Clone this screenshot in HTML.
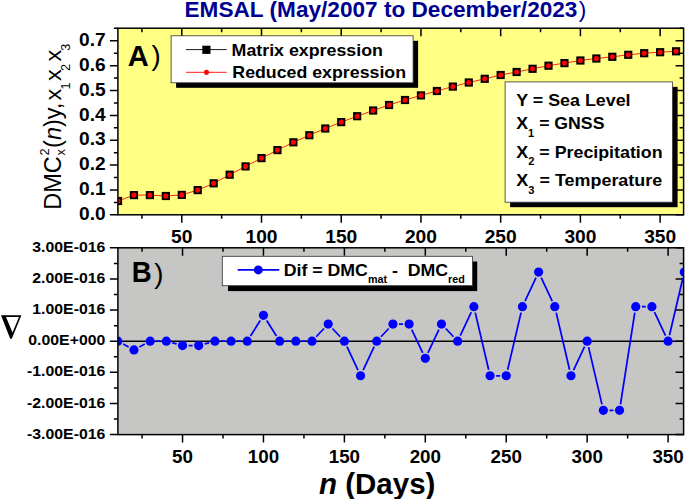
<!DOCTYPE html><html><head><meta charset="utf-8"><title>chart</title><style>html,body{margin:0;padding:0;background:#fff}body{width:685px;height:499px;overflow:hidden;font-family:"Liberation Sans",sans-serif}</style></head><body><svg width="685" height="499" viewBox="0 0 685 499" style="display:block">
<rect width="685" height="499" fill="#fff"/>
<rect x="117.90" y="28.20" width="565.70" height="186.60" fill="#ffff83"/>
<rect x="117.90" y="247.80" width="565.70" height="186.80" fill="#c6c6c4"/>
<text transform="translate(184.50,16.60) scale(1.0470,1.0000)" font-family="Liberation Sans, sans-serif" font-weight="bold" font-size="21.6" text-anchor="start" fill="#000090" xml:space="preserve">EMSAL (May/2007 to December/2023<tspan font-weight="normal" dx="1.2">)</tspan></text>
<path d="M141.92 214.80v4.0M141.92 28.20v4.0M142.08 247.80v4.0M142.08 434.60v4.0M181.78 214.80v8.0M181.78 28.20v8.0M182.54 247.80v8.0M182.54 434.60v8.0M221.64 214.80v4.0M221.64 28.20v4.0M223.00 247.80v4.0M223.00 434.60v4.0M261.50 214.80v8.0M261.50 28.20v8.0M263.46 247.80v8.0M263.46 434.60v8.0M301.37 214.80v4.0M301.37 28.20v4.0M303.93 247.80v4.0M303.93 434.60v4.0M341.23 214.80v8.0M341.23 28.20v8.0M344.39 247.80v8.0M344.39 434.60v8.0M381.09 214.80v4.0M381.09 28.20v4.0M384.85 247.80v4.0M384.85 434.60v4.0M420.95 214.80v8.0M420.95 28.20v8.0M425.31 247.80v8.0M425.31 434.60v8.0M460.82 214.80v4.0M460.82 28.20v4.0M465.78 247.80v4.0M465.78 434.60v4.0M500.68 214.80v8.0M500.68 28.20v8.0M506.24 247.80v8.0M506.24 434.60v8.0M540.54 214.80v4.0M540.54 28.20v4.0M546.70 247.80v4.0M546.70 434.60v4.0M580.40 214.80v8.0M580.40 28.20v8.0M587.16 247.80v8.0M587.16 434.60v8.0M620.27 214.80v4.0M620.27 28.20v4.0M627.63 247.80v4.0M627.63 434.60v4.0M660.13 214.80v8.0M660.13 28.20v8.0M668.09 247.80v8.0M668.09 434.60v8.0M117.90 214.80h-8.0M683.60 214.80h-8.0M117.90 202.38h-4.0M683.60 202.38h-4.0M117.90 189.95h-8.0M683.60 189.95h-8.0M117.90 177.53h-4.0M683.60 177.53h-4.0M117.90 165.10h-8.0M683.60 165.10h-8.0M117.90 152.68h-4.0M683.60 152.68h-4.0M117.90 140.25h-8.0M683.60 140.25h-8.0M117.90 127.83h-4.0M683.60 127.83h-4.0M117.90 115.40h-8.0M683.60 115.40h-8.0M117.90 102.98h-4.0M683.60 102.98h-4.0M117.90 90.55h-8.0M683.60 90.55h-8.0M117.90 78.12h-4.0M683.60 78.12h-4.0M117.90 65.70h-8.0M683.60 65.70h-8.0M117.90 53.28h-4.0M683.60 53.28h-4.0M117.90 40.85h-8.0M683.60 40.85h-8.0M117.90 28.20h-4.0M683.60 28.20h-4.0M117.90 434.59h-8.0M683.60 434.59h-8.0M117.90 419.02h-4.0M683.60 419.02h-4.0M117.90 403.46h-8.0M683.60 403.46h-8.0M117.90 387.89h-4.0M683.60 387.89h-4.0M117.90 372.33h-8.0M683.60 372.33h-8.0M117.90 356.76h-4.0M683.60 356.76h-4.0M117.90 341.20h-8.0M683.60 341.20h-8.0M117.90 325.63h-4.0M683.60 325.63h-4.0M117.90 310.07h-8.0M683.60 310.07h-8.0M117.90 294.50h-4.0M683.60 294.50h-4.0M117.90 278.94h-8.0M683.60 278.94h-8.0M117.90 263.38h-4.0M683.60 263.38h-4.0M117.90 247.81h-8.0M683.60 247.81h-8.0" stroke="#000" stroke-width="1.5" fill="none"/>
<text transform="translate(181.78,243.00)" font-family="Liberation Sans, sans-serif" font-weight="bold" font-size="19.2" text-anchor="middle" fill="#000" xml:space="preserve">50</text>
<text transform="translate(182.54,462.60)" font-family="Liberation Sans, sans-serif" font-weight="bold" font-size="18.8" text-anchor="middle" fill="#000" xml:space="preserve">50</text>
<text transform="translate(261.50,243.00)" font-family="Liberation Sans, sans-serif" font-weight="bold" font-size="19.2" text-anchor="middle" fill="#000" xml:space="preserve">100</text>
<text transform="translate(263.46,462.60)" font-family="Liberation Sans, sans-serif" font-weight="bold" font-size="18.8" text-anchor="middle" fill="#000" xml:space="preserve">100</text>
<text transform="translate(341.23,243.00)" font-family="Liberation Sans, sans-serif" font-weight="bold" font-size="19.2" text-anchor="middle" fill="#000" xml:space="preserve">150</text>
<text transform="translate(344.39,462.60)" font-family="Liberation Sans, sans-serif" font-weight="bold" font-size="18.8" text-anchor="middle" fill="#000" xml:space="preserve">150</text>
<text transform="translate(420.95,243.00)" font-family="Liberation Sans, sans-serif" font-weight="bold" font-size="19.2" text-anchor="middle" fill="#000" xml:space="preserve">200</text>
<text transform="translate(425.31,462.60)" font-family="Liberation Sans, sans-serif" font-weight="bold" font-size="18.8" text-anchor="middle" fill="#000" xml:space="preserve">200</text>
<text transform="translate(500.68,243.00)" font-family="Liberation Sans, sans-serif" font-weight="bold" font-size="19.2" text-anchor="middle" fill="#000" xml:space="preserve">250</text>
<text transform="translate(506.24,462.60)" font-family="Liberation Sans, sans-serif" font-weight="bold" font-size="18.8" text-anchor="middle" fill="#000" xml:space="preserve">250</text>
<text transform="translate(580.40,243.00)" font-family="Liberation Sans, sans-serif" font-weight="bold" font-size="19.2" text-anchor="middle" fill="#000" xml:space="preserve">300</text>
<text transform="translate(587.16,462.60)" font-family="Liberation Sans, sans-serif" font-weight="bold" font-size="18.8" text-anchor="middle" fill="#000" xml:space="preserve">300</text>
<text transform="translate(660.13,243.00)" font-family="Liberation Sans, sans-serif" font-weight="bold" font-size="19.2" text-anchor="middle" fill="#000" xml:space="preserve">350</text>
<text transform="translate(668.09,462.60)" font-family="Liberation Sans, sans-serif" font-weight="bold" font-size="18.8" text-anchor="middle" fill="#000" xml:space="preserve">350</text>
<text transform="translate(105.60,220.00) scale(1.0400,1.0000)" font-family="Liberation Sans, sans-serif" font-weight="bold" font-size="18.4" text-anchor="end" fill="#000" xml:space="preserve">0.0</text>
<text transform="translate(105.60,195.15) scale(1.0400,1.0000)" font-family="Liberation Sans, sans-serif" font-weight="bold" font-size="18.4" text-anchor="end" fill="#000" xml:space="preserve">0.1</text>
<text transform="translate(105.60,170.30) scale(1.0400,1.0000)" font-family="Liberation Sans, sans-serif" font-weight="bold" font-size="18.4" text-anchor="end" fill="#000" xml:space="preserve">0.2</text>
<text transform="translate(105.60,145.45) scale(1.0400,1.0000)" font-family="Liberation Sans, sans-serif" font-weight="bold" font-size="18.4" text-anchor="end" fill="#000" xml:space="preserve">0.3</text>
<text transform="translate(105.60,120.60) scale(1.0400,1.0000)" font-family="Liberation Sans, sans-serif" font-weight="bold" font-size="18.4" text-anchor="end" fill="#000" xml:space="preserve">0.4</text>
<text transform="translate(105.60,95.75) scale(1.0400,1.0000)" font-family="Liberation Sans, sans-serif" font-weight="bold" font-size="18.4" text-anchor="end" fill="#000" xml:space="preserve">0.5</text>
<text transform="translate(105.60,70.90) scale(1.0400,1.0000)" font-family="Liberation Sans, sans-serif" font-weight="bold" font-size="18.4" text-anchor="end" fill="#000" xml:space="preserve">0.6</text>
<text transform="translate(105.60,46.05) scale(1.0400,1.0000)" font-family="Liberation Sans, sans-serif" font-weight="bold" font-size="18.4" text-anchor="end" fill="#000" xml:space="preserve">0.7</text>
<text transform="translate(105.30,251.91) scale(1.0700,1.0000)" font-family="Liberation Sans, sans-serif" font-weight="bold" font-size="14.8" text-anchor="end" fill="#000" xml:space="preserve">3.00E-016</text>
<text transform="translate(105.30,283.04) scale(1.0700,1.0000)" font-family="Liberation Sans, sans-serif" font-weight="bold" font-size="14.8" text-anchor="end" fill="#000" xml:space="preserve">2.00E-016</text>
<text transform="translate(105.30,314.17) scale(1.0700,1.0000)" font-family="Liberation Sans, sans-serif" font-weight="bold" font-size="14.8" text-anchor="end" fill="#000" xml:space="preserve">1.00E-016</text>
<text transform="translate(105.30,345.30) scale(1.0700,1.0000)" font-family="Liberation Sans, sans-serif" font-weight="bold" font-size="14.8" text-anchor="end" fill="#000" xml:space="preserve">0.00E+000</text>
<text transform="translate(105.30,376.43) scale(1.0700,1.0000)" font-family="Liberation Sans, sans-serif" font-weight="bold" font-size="14.8" text-anchor="end" fill="#000" xml:space="preserve">-1.00E-016</text>
<text transform="translate(105.30,407.56) scale(1.0700,1.0000)" font-family="Liberation Sans, sans-serif" font-weight="bold" font-size="14.8" text-anchor="end" fill="#000" xml:space="preserve">-2.00E-016</text>
<text transform="translate(105.30,438.69) scale(1.0700,1.0000)" font-family="Liberation Sans, sans-serif" font-weight="bold" font-size="14.8" text-anchor="end" fill="#000" xml:space="preserve">-3.00E-016</text>
<clipPath id="c1"><rect x="117.90" y="28.20" width="565.70" height="186.60"/></clipPath>
<g clip-path="url(#c1)">
<polyline points="118.00,201.00 133.94,195.10 149.89,195.10 165.84,196.00 181.78,194.90 197.72,190.10 213.67,183.30 229.62,174.70 245.56,166.40 261.50,158.10 277.45,150.10 293.39,142.30 309.34,135.20 325.28,128.50 341.23,122.10 357.18,116.20 373.12,110.50 389.06,105.00 405.01,100.00 420.95,95.40 436.90,91.00 452.85,86.60 468.79,82.50 484.74,78.80 500.68,75.00 516.62,72.00 532.57,68.80 548.51,65.70 564.46,63.10 580.40,60.50 596.35,58.50 612.30,56.80 628.24,54.80 644.19,53.20 660.13,52.20 676.08,51.30" fill="none" stroke="#ff0000" stroke-width="0.85"/>
<rect x="113.90" y="196.90" width="8.2" height="8.2" fill="#000"/>
<circle cx="118.00" cy="201.00" r="2.55" fill="#ff0000"/>
<rect x="129.84" y="191.00" width="8.2" height="8.2" fill="#000"/>
<circle cx="133.94" cy="195.10" r="2.55" fill="#ff0000"/>
<rect x="145.79" y="191.00" width="8.2" height="8.2" fill="#000"/>
<circle cx="149.89" cy="195.10" r="2.55" fill="#ff0000"/>
<rect x="161.74" y="191.90" width="8.2" height="8.2" fill="#000"/>
<circle cx="165.84" cy="196.00" r="2.55" fill="#ff0000"/>
<rect x="177.68" y="190.80" width="8.2" height="8.2" fill="#000"/>
<circle cx="181.78" cy="194.90" r="2.55" fill="#ff0000"/>
<rect x="193.62" y="186.00" width="8.2" height="8.2" fill="#000"/>
<circle cx="197.72" cy="190.10" r="2.55" fill="#ff0000"/>
<rect x="209.57" y="179.20" width="8.2" height="8.2" fill="#000"/>
<circle cx="213.67" cy="183.30" r="2.55" fill="#ff0000"/>
<rect x="225.52" y="170.60" width="8.2" height="8.2" fill="#000"/>
<circle cx="229.62" cy="174.70" r="2.55" fill="#ff0000"/>
<rect x="241.46" y="162.30" width="8.2" height="8.2" fill="#000"/>
<circle cx="245.56" cy="166.40" r="2.55" fill="#ff0000"/>
<rect x="257.40" y="154.00" width="8.2" height="8.2" fill="#000"/>
<circle cx="261.50" cy="158.10" r="2.55" fill="#ff0000"/>
<rect x="273.35" y="146.00" width="8.2" height="8.2" fill="#000"/>
<circle cx="277.45" cy="150.10" r="2.55" fill="#ff0000"/>
<rect x="289.29" y="138.20" width="8.2" height="8.2" fill="#000"/>
<circle cx="293.39" cy="142.30" r="2.55" fill="#ff0000"/>
<rect x="305.24" y="131.10" width="8.2" height="8.2" fill="#000"/>
<circle cx="309.34" cy="135.20" r="2.55" fill="#ff0000"/>
<rect x="321.18" y="124.40" width="8.2" height="8.2" fill="#000"/>
<circle cx="325.28" cy="128.50" r="2.55" fill="#ff0000"/>
<rect x="337.13" y="118.00" width="8.2" height="8.2" fill="#000"/>
<circle cx="341.23" cy="122.10" r="2.55" fill="#ff0000"/>
<rect x="353.07" y="112.10" width="8.2" height="8.2" fill="#000"/>
<circle cx="357.18" cy="116.20" r="2.55" fill="#ff0000"/>
<rect x="369.02" y="106.40" width="8.2" height="8.2" fill="#000"/>
<circle cx="373.12" cy="110.50" r="2.55" fill="#ff0000"/>
<rect x="384.96" y="100.90" width="8.2" height="8.2" fill="#000"/>
<circle cx="389.06" cy="105.00" r="2.55" fill="#ff0000"/>
<rect x="400.91" y="95.90" width="8.2" height="8.2" fill="#000"/>
<circle cx="405.01" cy="100.00" r="2.55" fill="#ff0000"/>
<rect x="416.85" y="91.30" width="8.2" height="8.2" fill="#000"/>
<circle cx="420.95" cy="95.40" r="2.55" fill="#ff0000"/>
<rect x="432.80" y="86.90" width="8.2" height="8.2" fill="#000"/>
<circle cx="436.90" cy="91.00" r="2.55" fill="#ff0000"/>
<rect x="448.75" y="82.50" width="8.2" height="8.2" fill="#000"/>
<circle cx="452.85" cy="86.60" r="2.55" fill="#ff0000"/>
<rect x="464.69" y="78.40" width="8.2" height="8.2" fill="#000"/>
<circle cx="468.79" cy="82.50" r="2.55" fill="#ff0000"/>
<rect x="480.63" y="74.70" width="8.2" height="8.2" fill="#000"/>
<circle cx="484.74" cy="78.80" r="2.55" fill="#ff0000"/>
<rect x="496.58" y="70.90" width="8.2" height="8.2" fill="#000"/>
<circle cx="500.68" cy="75.00" r="2.55" fill="#ff0000"/>
<rect x="512.52" y="67.90" width="8.2" height="8.2" fill="#000"/>
<circle cx="516.62" cy="72.00" r="2.55" fill="#ff0000"/>
<rect x="528.47" y="64.70" width="8.2" height="8.2" fill="#000"/>
<circle cx="532.57" cy="68.80" r="2.55" fill="#ff0000"/>
<rect x="544.41" y="61.60" width="8.2" height="8.2" fill="#000"/>
<circle cx="548.51" cy="65.70" r="2.55" fill="#ff0000"/>
<rect x="560.36" y="59.00" width="8.2" height="8.2" fill="#000"/>
<circle cx="564.46" cy="63.10" r="2.55" fill="#ff0000"/>
<rect x="576.30" y="56.40" width="8.2" height="8.2" fill="#000"/>
<circle cx="580.40" cy="60.50" r="2.55" fill="#ff0000"/>
<rect x="592.25" y="54.40" width="8.2" height="8.2" fill="#000"/>
<circle cx="596.35" cy="58.50" r="2.55" fill="#ff0000"/>
<rect x="608.20" y="52.70" width="8.2" height="8.2" fill="#000"/>
<circle cx="612.30" cy="56.80" r="2.55" fill="#ff0000"/>
<rect x="624.14" y="50.70" width="8.2" height="8.2" fill="#000"/>
<circle cx="628.24" cy="54.80" r="2.55" fill="#ff0000"/>
<rect x="640.09" y="49.10" width="8.2" height="8.2" fill="#000"/>
<circle cx="644.19" cy="53.20" r="2.55" fill="#ff0000"/>
<rect x="656.03" y="48.10" width="8.2" height="8.2" fill="#000"/>
<circle cx="660.13" cy="52.20" r="2.55" fill="#ff0000"/>
<rect x="671.98" y="47.20" width="8.2" height="8.2" fill="#000"/>
<circle cx="676.08" cy="51.30" r="2.55" fill="#ff0000"/>
</g>
<line x1="117.90" x2="683.60" y1="341.20" y2="341.20" stroke="#000" stroke-width="1.5"/>
<clipPath id="c2"><rect x="117.90" y="247.80" width="565.70" height="186.80"/></clipPath>
<g clip-path="url(#c2)">
<path d="M123.17 344.09L128.61 347.02M139.36 347.02L144.80 344.09M156.27 341.20L160.25 341.20M172.25 342.79L176.65 343.97M188.64 345.56L192.62 345.56M204.62 343.97L209.02 342.79M221.01 341.20L225.00 341.20M237.19 341.20L241.18 341.20M250.52 336.03L260.23 320.53M266.70 320.53L276.41 336.03M285.75 341.20L289.73 341.20M301.94 341.20L305.92 341.20M316.21 336.77L324.01 328.51M332.40 328.51L340.20 336.77M346.98 346.72L357.99 370.23M363.16 370.23L374.17 346.72M380.95 336.77L388.75 328.51M399.05 324.08L403.03 324.08M411.74 329.59L422.71 352.81M427.92 352.81L438.89 329.59M445.69 328.51L453.49 336.77M460.27 335.68L471.28 312.17M475.26 312.58L488.66 369.82M496.16 375.75L500.14 375.75M507.63 369.82L521.03 312.58M525.01 301.12L536.02 277.62M541.20 277.62L552.21 301.12M556.19 312.58L569.59 369.82M573.57 370.23L584.58 346.72M588.56 347.14L601.96 404.37M609.45 410.31L613.43 410.31M620.48 404.28L634.78 312.67M641.82 306.65L645.80 306.65M654.49 312.17L665.50 335.68M669.48 335.26L682.88 278.03" fill="none" stroke="#0000ff" stroke-width="1.75"/>
<circle cx="117.80" cy="341.20" r="4.6" fill="#0000ff"/>
<circle cx="133.99" cy="349.92" r="4.6" fill="#0000ff"/>
<circle cx="150.17" cy="341.20" r="4.6" fill="#0000ff"/>
<circle cx="166.35" cy="341.20" r="4.6" fill="#0000ff"/>
<circle cx="182.54" cy="345.56" r="4.6" fill="#0000ff"/>
<circle cx="198.72" cy="345.56" r="4.6" fill="#0000ff"/>
<circle cx="214.91" cy="341.20" r="4.6" fill="#0000ff"/>
<circle cx="231.09" cy="341.20" r="4.6" fill="#0000ff"/>
<circle cx="247.28" cy="341.20" r="4.6" fill="#0000ff"/>
<circle cx="263.46" cy="315.36" r="4.6" fill="#0000ff"/>
<circle cx="279.65" cy="341.20" r="4.6" fill="#0000ff"/>
<circle cx="295.83" cy="341.20" r="4.6" fill="#0000ff"/>
<circle cx="312.02" cy="341.20" r="4.6" fill="#0000ff"/>
<circle cx="328.20" cy="324.08" r="4.6" fill="#0000ff"/>
<circle cx="344.39" cy="341.20" r="4.6" fill="#0000ff"/>
<circle cx="360.57" cy="375.75" r="4.6" fill="#0000ff"/>
<circle cx="376.76" cy="341.20" r="4.6" fill="#0000ff"/>
<circle cx="392.94" cy="324.08" r="4.6" fill="#0000ff"/>
<circle cx="409.13" cy="324.08" r="4.6" fill="#0000ff"/>
<circle cx="425.31" cy="358.32" r="4.6" fill="#0000ff"/>
<circle cx="441.50" cy="324.08" r="4.6" fill="#0000ff"/>
<circle cx="457.69" cy="341.20" r="4.6" fill="#0000ff"/>
<circle cx="473.87" cy="306.65" r="4.6" fill="#0000ff"/>
<circle cx="490.06" cy="375.75" r="4.6" fill="#0000ff"/>
<circle cx="506.24" cy="375.75" r="4.6" fill="#0000ff"/>
<circle cx="522.42" cy="306.65" r="4.6" fill="#0000ff"/>
<circle cx="538.61" cy="272.09" r="4.6" fill="#0000ff"/>
<circle cx="554.79" cy="306.65" r="4.6" fill="#0000ff"/>
<circle cx="570.98" cy="375.75" r="4.6" fill="#0000ff"/>
<circle cx="587.16" cy="341.20" r="4.6" fill="#0000ff"/>
<circle cx="603.35" cy="410.31" r="4.6" fill="#0000ff"/>
<circle cx="619.53" cy="410.31" r="4.6" fill="#0000ff"/>
<circle cx="635.72" cy="306.65" r="4.6" fill="#0000ff"/>
<circle cx="651.90" cy="306.65" r="4.6" fill="#0000ff"/>
<circle cx="668.09" cy="341.20" r="4.6" fill="#0000ff"/>
<circle cx="684.27" cy="272.09" r="4.6" fill="#0000ff"/>
</g>
<rect x="117.90" y="28.20" width="565.70" height="186.60" fill="none" stroke="#000" stroke-width="1.5"/>
<rect x="117.90" y="247.80" width="565.70" height="186.80" fill="none" stroke="#000" stroke-width="1.5"/>
<rect x="176.10" y="40.80" width="242.00" height="47.00" fill="#000"/>
<rect x="171.10" y="35.80" width="242.00" height="47.00" fill="#fff" stroke="#333" stroke-width="0.8"/>
<line x1="186" x2="226.7" y1="49.6" y2="49.6" stroke="#000" stroke-width="0.9"/>
<rect x="202.3" y="45.7" width="8.2" height="8.2" fill="#000"/>
<line x1="186" x2="226.7" y1="72.3" y2="72.3" stroke="#f00" stroke-width="0.9"/>
<circle cx="206.5" cy="72.3" r="2.55" fill="#f00"/>
<text transform="translate(231.60,55.60) scale(1.0600,1.0000)" font-family="Liberation Sans, sans-serif" font-weight="bold" font-size="16.8" text-anchor="start" fill="#000" xml:space="preserve">Matrix expression</text>
<text transform="translate(232.30,78.10) scale(1.0580,1.0000)" font-family="Liberation Sans, sans-serif" font-weight="bold" font-size="16.8" text-anchor="start" fill="#000" xml:space="preserve">Reduced expression</text>
<text transform="translate(127.80,65.60) scale(0.9700,1.0000)" font-family="Liberation Sans, sans-serif" font-weight="bold" font-size="30" text-anchor="start" fill="#000" xml:space="preserve">A</text>
<text transform="translate(151.40,65.40)" font-family="Liberation Sans, sans-serif" font-weight="normal" font-size="27.6" text-anchor="start" fill="#000" xml:space="preserve">)</text>
<text transform="translate(131.80,282.40) scale(0.9200,1.0000)" font-family="Liberation Sans, sans-serif" font-weight="bold" font-size="30" text-anchor="start" fill="#000" xml:space="preserve">B</text>
<text transform="translate(154.30,282.90)" font-family="Liberation Sans, sans-serif" font-weight="normal" font-size="27.6" text-anchor="start" fill="#000" xml:space="preserve">)</text>
<rect x="510.10" y="86.90" width="167.50" height="120.30" fill="#000"/>
<rect x="505.10" y="81.90" width="167.50" height="120.30" fill="#fff" stroke="#333" stroke-width="0.8"/>
<text transform="translate(516.30,106.40) scale(1.0500,1.0000)" font-family="Liberation Sans, sans-serif" font-weight="bold" font-size="17" text-anchor="start" fill="#000" xml:space="preserve">Y = Sea Level</text>
<text transform="translate(516.30,129.30) scale(1.0400,1.0000)" font-family="Liberation Sans, sans-serif" font-weight="bold" font-size="17" text-anchor="start" fill="#000" xml:space="preserve">X<tspan font-size="10.6" dy="7.3">1</tspan><tspan dy="-7.3" font-size="1">&#8203;</tspan> = GNSS</text>
<text transform="translate(516.30,157.70) scale(1.0480,1.0000)" font-family="Liberation Sans, sans-serif" font-weight="bold" font-size="17" text-anchor="start" fill="#000" xml:space="preserve">X<tspan font-size="10.6" dy="7.3">2</tspan><tspan dy="-7.3" font-size="1">&#8203;</tspan> = Precipitation</text>
<text transform="translate(516.30,186.20) scale(1.0550,1.0000)" font-family="Liberation Sans, sans-serif" font-weight="bold" font-size="17" text-anchor="start" fill="#000" xml:space="preserve">X<tspan font-size="10.6" dy="7.3">3</tspan><tspan dy="-7.3" font-size="1">&#8203;</tspan> = Temperature</text>
<rect x="228.00" y="261.50" width="249.20" height="29.60" fill="#000"/>
<rect x="222.30" y="256.30" width="250.20" height="29.40" fill="#fff" stroke="#333" stroke-width="0.8"/>
<line x1="237.7" x2="279.3" y1="269.9" y2="269.9" stroke="#00f" stroke-width="1.6"/>
<circle cx="258.3" cy="269.9" r="4.5" fill="#00f"/>
<text transform="translate(283.80,275.80) scale(1.0550,1.0000)" font-family="Liberation Sans, sans-serif" font-weight="bold" font-size="16.8" text-anchor="start" fill="#000" xml:space="preserve">Dif = DMC<tspan font-size="10.2" dy="7.2">mat</tspan><tspan dy="-7.2" font-size="1">&#8203;</tspan> -  DMC<tspan font-size="10.2" dy="7.2">red</tspan><tspan dy="-7.2" font-size="1">&#8203;</tspan></text>
<text transform="translate(319.00,493.50)" font-family="Liberation Sans, sans-serif" font-weight="bold" font-size="29.5" text-anchor="start" fill="#000" xml:space="preserve"><tspan font-style="italic">n</tspan> (Days)</text>
<text transform="translate(61.30,209.70) rotate(-90) scale(1.000,1)" font-family="Liberation Sans, sans-serif" font-size="23.5" font-style="normal">DMC</text>
<text transform="translate(64.50,155.40) rotate(-90) scale(1.000,1)" font-family="Liberation Sans, sans-serif" font-size="12.8" font-style="normal">x</text>
<text transform="translate(48.80,155.60) rotate(-90) scale(1.000,1)" font-family="Liberation Sans, sans-serif" font-size="12.8" font-style="normal">2</text>
<text transform="translate(61.30,147.90) rotate(-90) scale(1.000,1)" font-family="Liberation Sans, sans-serif" font-size="23.5" font-style="normal">(<tspan font-style="italic">n</tspan>)y,</text>
<text transform="translate(61.30,100.50) rotate(-90) scale(1.100,1)" font-family="Liberation Sans, sans-serif" font-size="21.3" font-style="normal">x</text>
<text transform="translate(69.70,89.60) rotate(-90) scale(1.000,1)" font-family="Liberation Sans, sans-serif" font-size="12.7" font-style="normal">1</text>
<text transform="translate(61.30,80.90) rotate(-90) scale(1.100,1)" font-family="Liberation Sans, sans-serif" font-size="21.3" font-style="normal">x</text>
<text transform="translate(69.70,70.90) rotate(-90) scale(1.000,1)" font-family="Liberation Sans, sans-serif" font-size="12.7" font-style="normal">2</text>
<text transform="translate(61.30,61.50) rotate(-90) scale(1.100,1)" font-family="Liberation Sans, sans-serif" font-size="21.3" font-style="normal">x</text>
<text transform="translate(69.70,50.80) rotate(-90) scale(1.000,1)" font-family="Liberation Sans, sans-serif" font-size="12.7" font-style="normal">3</text>
<path d="M1.0 315.2 L21.4 315.2 L11.8 338.7 L10.2 338.7 Z M6.0 316.9 L19.0 316.9 L12.5 332.6 Z" fill="#000" fill-rule="evenodd"/>
</svg></body></html>
